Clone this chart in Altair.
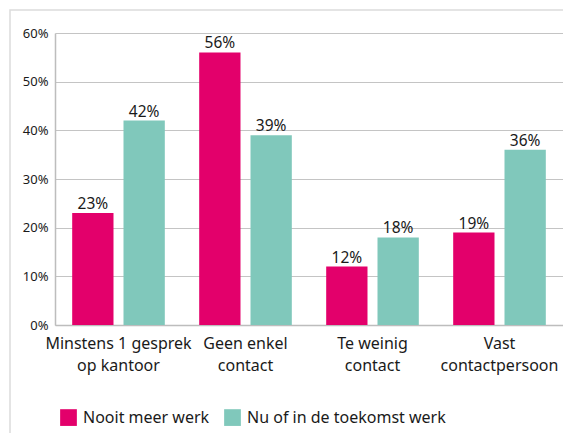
import altair as alt
import pandas as pd

categories = ["Minstens 1 gesprek|op kantoor", "Geen enkel|contact", "Te weinig|contact", "Vast|contactpersoon"]
series = ["Nooit meer werk", "Nu of in de toekomst werk"]
nooit = [23, 56, 12, 19]
nu = [42, 39, 18, 36]
colors = ["#E3006B", "#80C8BB"]

rows = []
for c, a, b in zip(categories, nooit, nu):
    rows.append({"cat": c, "serie": series[0], "val": a, "lab": f"{a}%"})
    rows.append({"cat": c, "serie": series[1], "val": b, "lab": f"{b}%"})
df = pd.DataFrame(rows)

FONT = "Noto Sans"

x = alt.X("cat:N", sort=categories, title=None,
          scale=alt.Scale(paddingInner=0, paddingOuter=0),
          axis=alt.Axis(labelAngle=0, labelExpr="split(datum.label, '|')",
                        labelFontSize=16, labelFont=FONT, labelColor="#1a1a1a",
                        labelPadding=10, labelLineHeight=22, ticks=False,
                        domainColor="#bdbdbd", domainWidth=1.5, labelLimit=200))
xo = alt.XOffset("serie:N", sort=series,
                 scale=alt.Scale(paddingInner=0.195, paddingOuter=0.335))
y = alt.Y("val:Q", title=None,
          scale=alt.Scale(domain=[0, 60]),
          axis=alt.Axis(values=[0, 10, 20, 30, 40, 50, 60], labelExpr="datum.value + '%'",
                        labelFontSize=13, labelFont=FONT, labelColor="#1a1a1a",
                        ticks=False, labelPadding=7, domainColor="#bdbdbd", domainWidth=1.5,
                        gridColor="#c4c4c4", gridWidth=1.2))

frame = alt.Chart(pd.DataFrame({"k": [0]})).mark_rect(
    fill=None, stroke="#dcdcdc", strokeWidth=1.5
).encode(x=alt.value(-45), x2=alt.value(700), y=alt.value(-23), y2=alt.value(600))

bars = alt.Chart(df).mark_bar().encode(
    x=x, xOffset=xo, y=y,
    color=alt.Color("serie:N", sort=series,
                    scale=alt.Scale(domain=series, range=colors),
                    legend=alt.Legend(title=None, orient="none", direction="horizontal",
                                      legendX=5, legendY=376, symbolType="square",
                                      symbolSize=280, symbolStrokeWidth=0,
                                      labelFontSize=16, labelFont=FONT, labelColor="#1a1a1a",
                                      columnPadding=14, labelOffset=6, labelLimit=400)),
)

text = alt.Chart(df).mark_text(dy=-9, fontSize=15.5, font=FONT, color="#1a1a1a").encode(
    x=alt.X("cat:N", sort=categories), xOffset=alt.XOffset("serie:N", sort=series),
    y="val:Q", text="lab:N"
)

chart = alt.layer(frame, bars, text).properties(
    width=508, height=292,
    padding={"left": 47, "top": 25, "right": 0, "bottom": 108},
    autosize=alt.AutoSizeParams(type="none"),
    background="white",
).configure_view(stroke=None)

chart.save("out.html", embed_options={"renderer": "svg", "actions": False})
